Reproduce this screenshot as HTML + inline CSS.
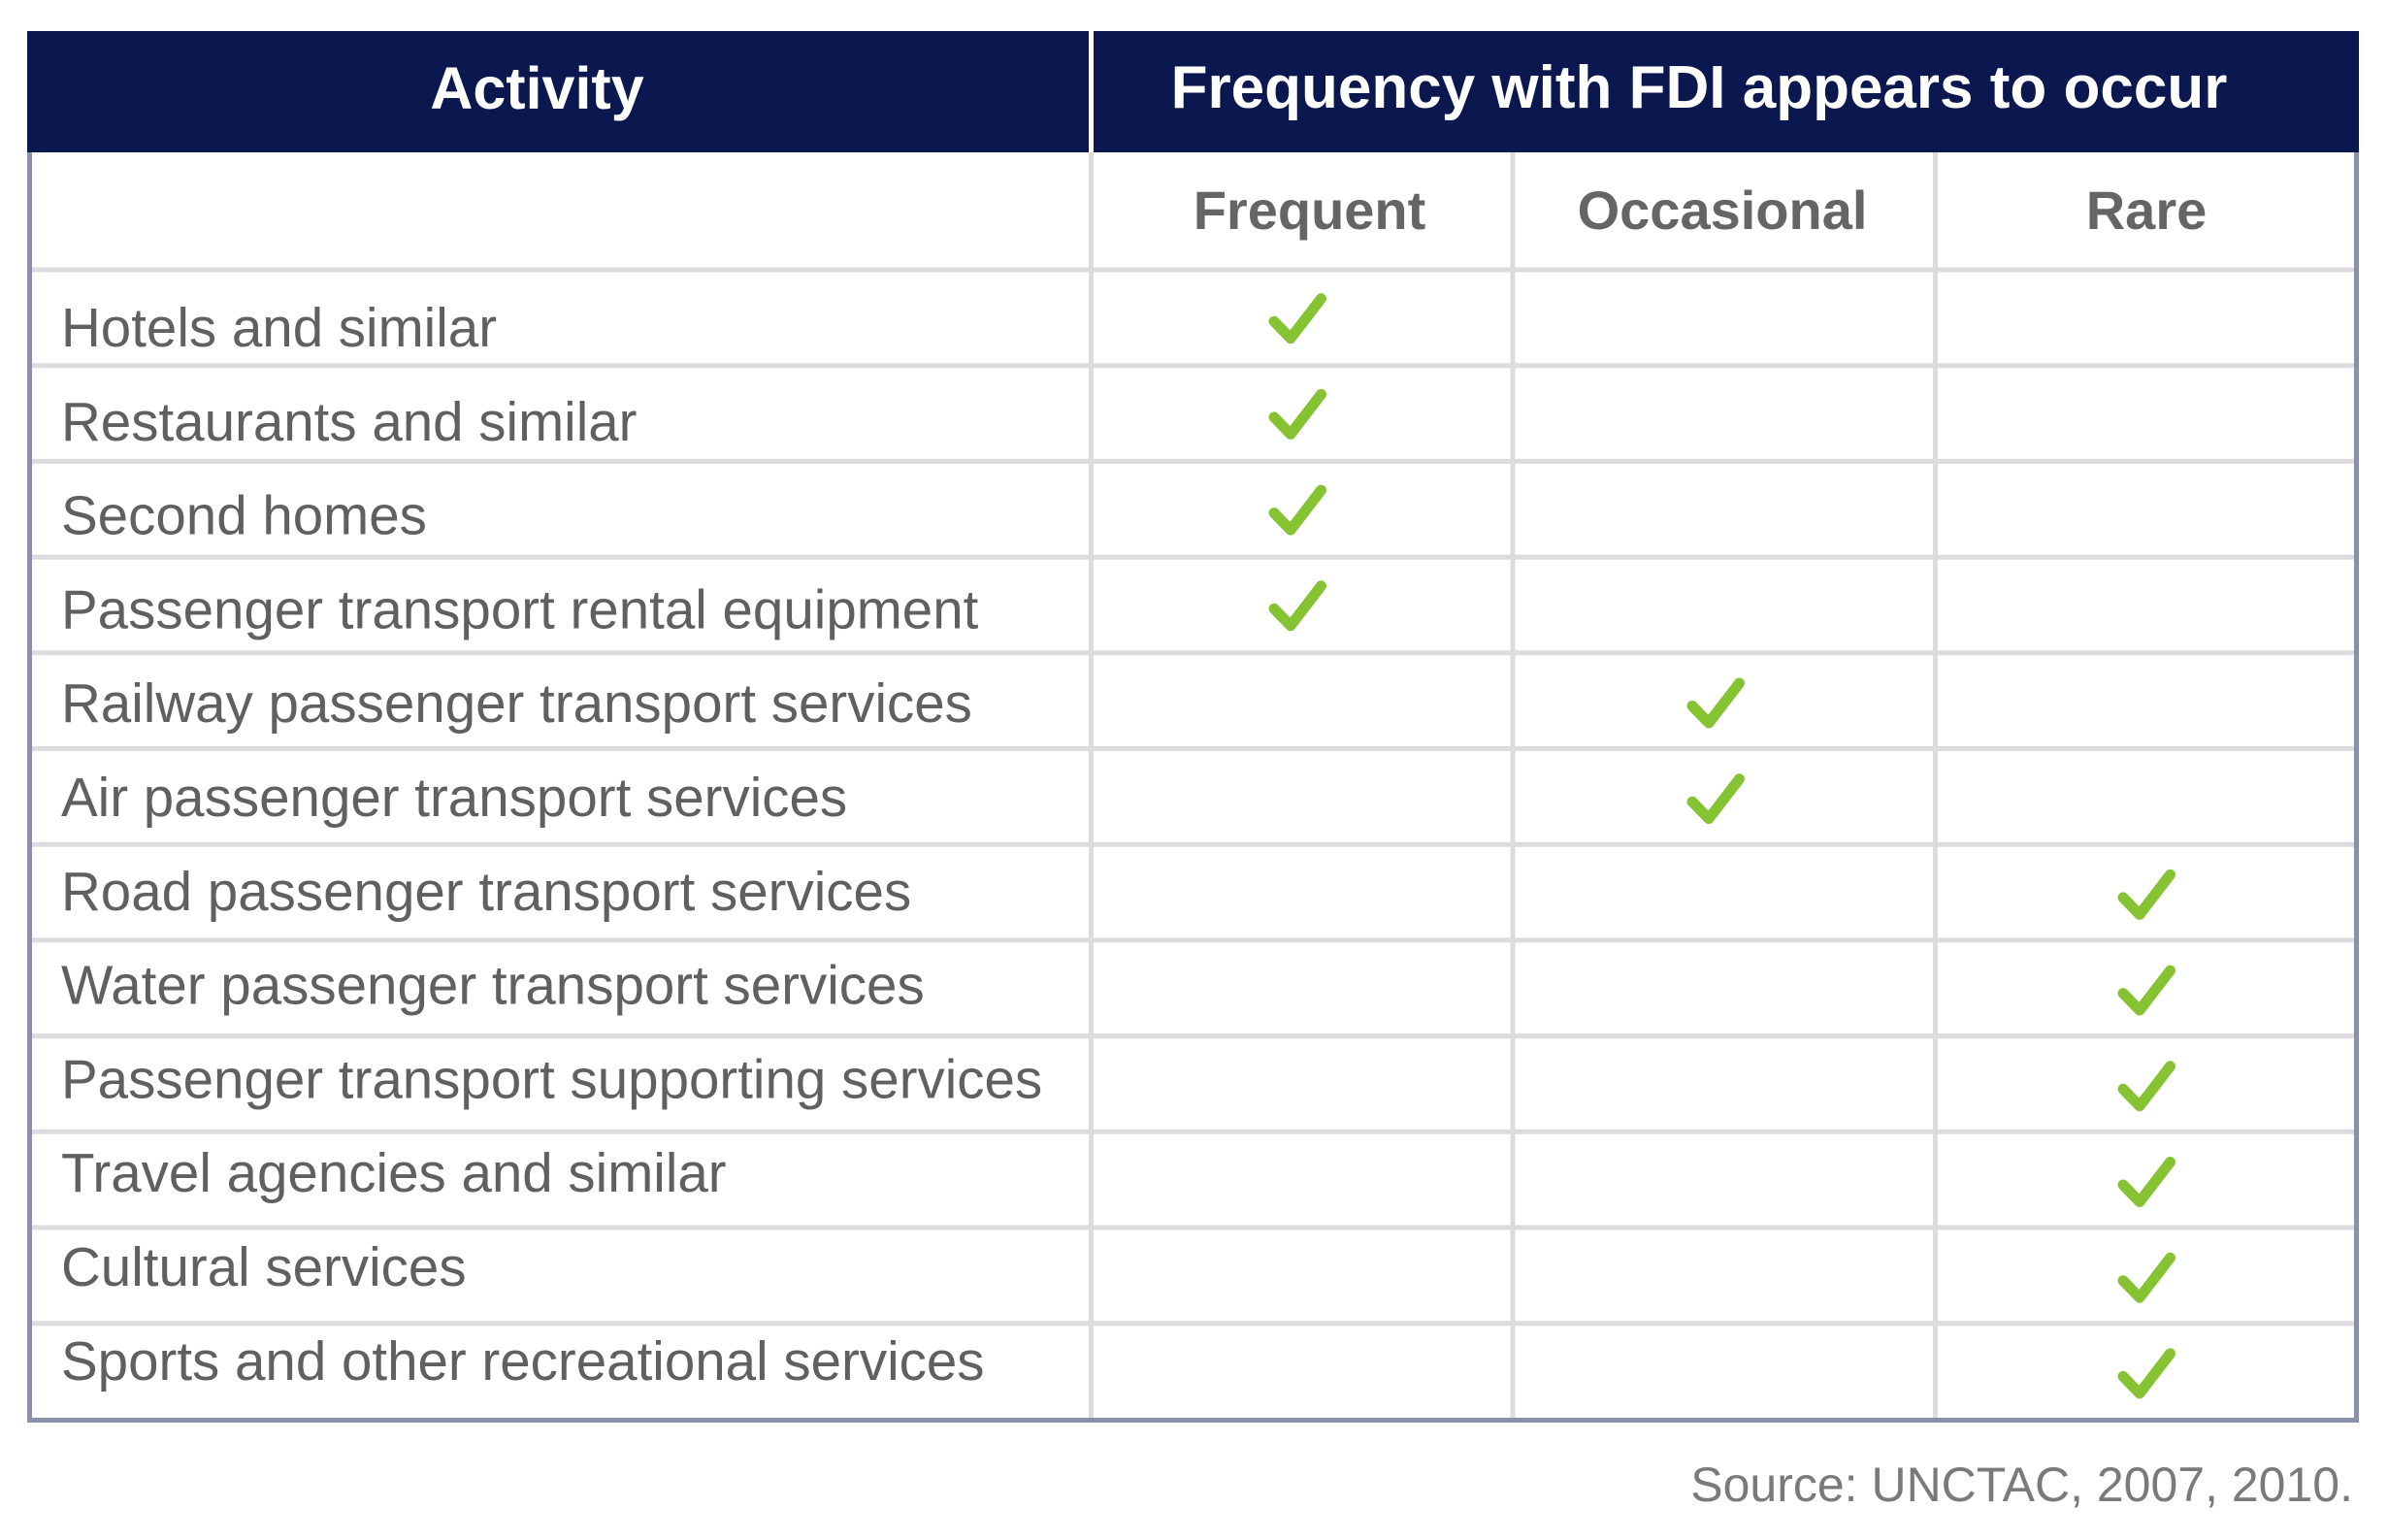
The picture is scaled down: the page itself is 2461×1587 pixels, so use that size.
<!DOCTYPE html>
<html>
<head>
<meta charset="utf-8">
<style>
  html,body{margin:0;padding:0;background:#ffffff;}
  body{width:2461px;height:1587px;overflow:hidden;}
  svg{display:block;}
  .row{font-family:"Liberation Sans",Arial,sans-serif;font-size:56.5px;fill:#606060;}
  .sub{font-family:"Liberation Sans",Arial,sans-serif;font-size:56px;font-weight:bold;fill:#656565;}
  .hd{font-family:"Liberation Sans",Arial,sans-serif;font-size:61px;font-weight:bold;fill:#ffffff;}
  .hd2{font-family:"Liberation Sans",Arial,sans-serif;font-size:62px;font-weight:bold;fill:#ffffff;}
  .src{font-family:"Liberation Sans",Arial,sans-serif;font-size:50px;fill:#7a7a7a;}
  .ck{fill:none;stroke:#86c332;stroke-width:11;stroke-linecap:round;stroke-linejoin:round;}
</style>
</head>
<body>
<svg width="2461" height="1587" viewBox="0 0 2461 1587" xmlns="http://www.w3.org/2000/svg">
  <rect x="0" y="0" width="2461" height="1587" fill="#ffffff"/>

  <!-- horizontal row separators -->
  <g stroke="#dcdcdf" stroke-width="5">
    <line x1="30" y1="278" x2="2429" y2="278"/>
    <line x1="30" y1="376.7" x2="2429" y2="376.7"/>
    <line x1="30" y1="475.4" x2="2429" y2="475.4"/>
    <line x1="30" y1="574.1" x2="2429" y2="574.1"/>
    <line x1="30" y1="672.8" x2="2429" y2="672.8"/>
    <line x1="30" y1="771.5" x2="2429" y2="771.5"/>
    <line x1="30" y1="870.2" x2="2429" y2="870.2"/>
    <line x1="30" y1="968.9" x2="2429" y2="968.9"/>
    <line x1="30" y1="1067.6" x2="2429" y2="1067.6"/>
    <line x1="30" y1="1166.3" x2="2429" y2="1166.3"/>
    <line x1="30" y1="1265" x2="2429" y2="1265"/>
    <line x1="30" y1="1363.7" x2="2429" y2="1363.7"/>
  </g>

  <!-- vertical column dividers -->
  <g stroke="#dcdcdf" stroke-width="5">
    <line x1="1124.5" y1="157" x2="1124.5" y2="1462"/>
    <line x1="1559" y1="157" x2="1559" y2="1462"/>
    <line x1="1994.5" y1="157" x2="1994.5" y2="1462"/>
  </g>

  <!-- outer border -->
  <g stroke="#8a90aa" stroke-width="5">
    <line x1="30.5" y1="155" x2="30.5" y2="1466"/>
    <line x1="2428.5" y1="155" x2="2428.5" y2="1466"/>
    <line x1="28" y1="1463.5" x2="2431" y2="1463.5"/>
  </g>

  <!-- header -->
  <rect x="28" y="32" width="2403" height="125" fill="#0b1850"/>
  <rect x="1122" y="32" width="5" height="125" fill="#ffffff"/>
  <text class="hd" x="553.5" y="112" text-anchor="middle">Activity</text>
  <text class="hd2" x="1751" y="111" text-anchor="middle">Frequency with FDI appears to occur</text>

  <!-- sub headers -->
  <text class="sub" x="1349.5" y="236" text-anchor="middle">Frequent</text>
  <text class="sub" x="1775" y="236" text-anchor="middle">Occasional</text>
  <text class="sub" x="2212" y="236" text-anchor="middle">Rare</text>

  <!-- row labels -->
  <text class="row" x="63" y="357">Hotels and similar</text>
  <text class="row" x="63" y="453.8">Restaurants and similar</text>
  <text class="row" x="63" y="550.6">Second homes</text>
  <text class="row" x="63" y="647.4">Passenger transport rental equipment</text>
  <text class="row" x="63" y="744.2">Railway passenger transport services</text>
  <text class="row" x="63" y="841">Air passenger transport services</text>
  <text class="row" x="63" y="937.8">Road passenger transport services</text>
  <text class="row" x="63" y="1034.6">Water passenger transport services</text>
  <text class="row" x="63" y="1131.4">Passenger transport supporting services</text>
  <text class="row" x="63" y="1228.2">Travel agencies and similar</text>
  <text class="row" x="63" y="1325">Cultural services</text>
  <text class="row" x="63" y="1421.8">Sports and other recreational services</text>

  <!-- check marks -->
  <g class="ck">
    <path d="M 1313 331.2 L 1330 348.7 L 1361.5 307.7"/>
    <path d="M 1313 429.9 L 1330 447.4 L 1361.5 406.4"/>
    <path d="M 1313 528.6 L 1330 546.1 L 1361.5 505.1"/>
    <path d="M 1313 627.3 L 1330 644.8 L 1361.5 603.8"/>

    <path d="M 1744 727.5 L 1761 745 L 1792.5 704"/>
    <path d="M 1744 826.2 L 1761 843.7 L 1792.5 802.7"/>

    <path d="M 2188 924.9 L 2205 942.4 L 2236.5 901.4"/>
    <path d="M 2188 1023.6 L 2205 1041.1 L 2236.5 1000.1"/>
    <path d="M 2188 1122.3 L 2205 1139.8 L 2236.5 1098.8"/>
    <path d="M 2188 1221 L 2205 1238.5 L 2236.5 1197.5"/>
    <path d="M 2188 1319.7 L 2205 1337.2 L 2236.5 1296.2"/>
    <path d="M 2188 1418.4 L 2205 1435.9 L 2236.5 1394.9"/>
  </g>

  <!-- source -->
  <text class="src" x="2425" y="1547" text-anchor="end">Source: UNCTAC, 2007, 2010.</text>
</svg>
</body>
</html>
